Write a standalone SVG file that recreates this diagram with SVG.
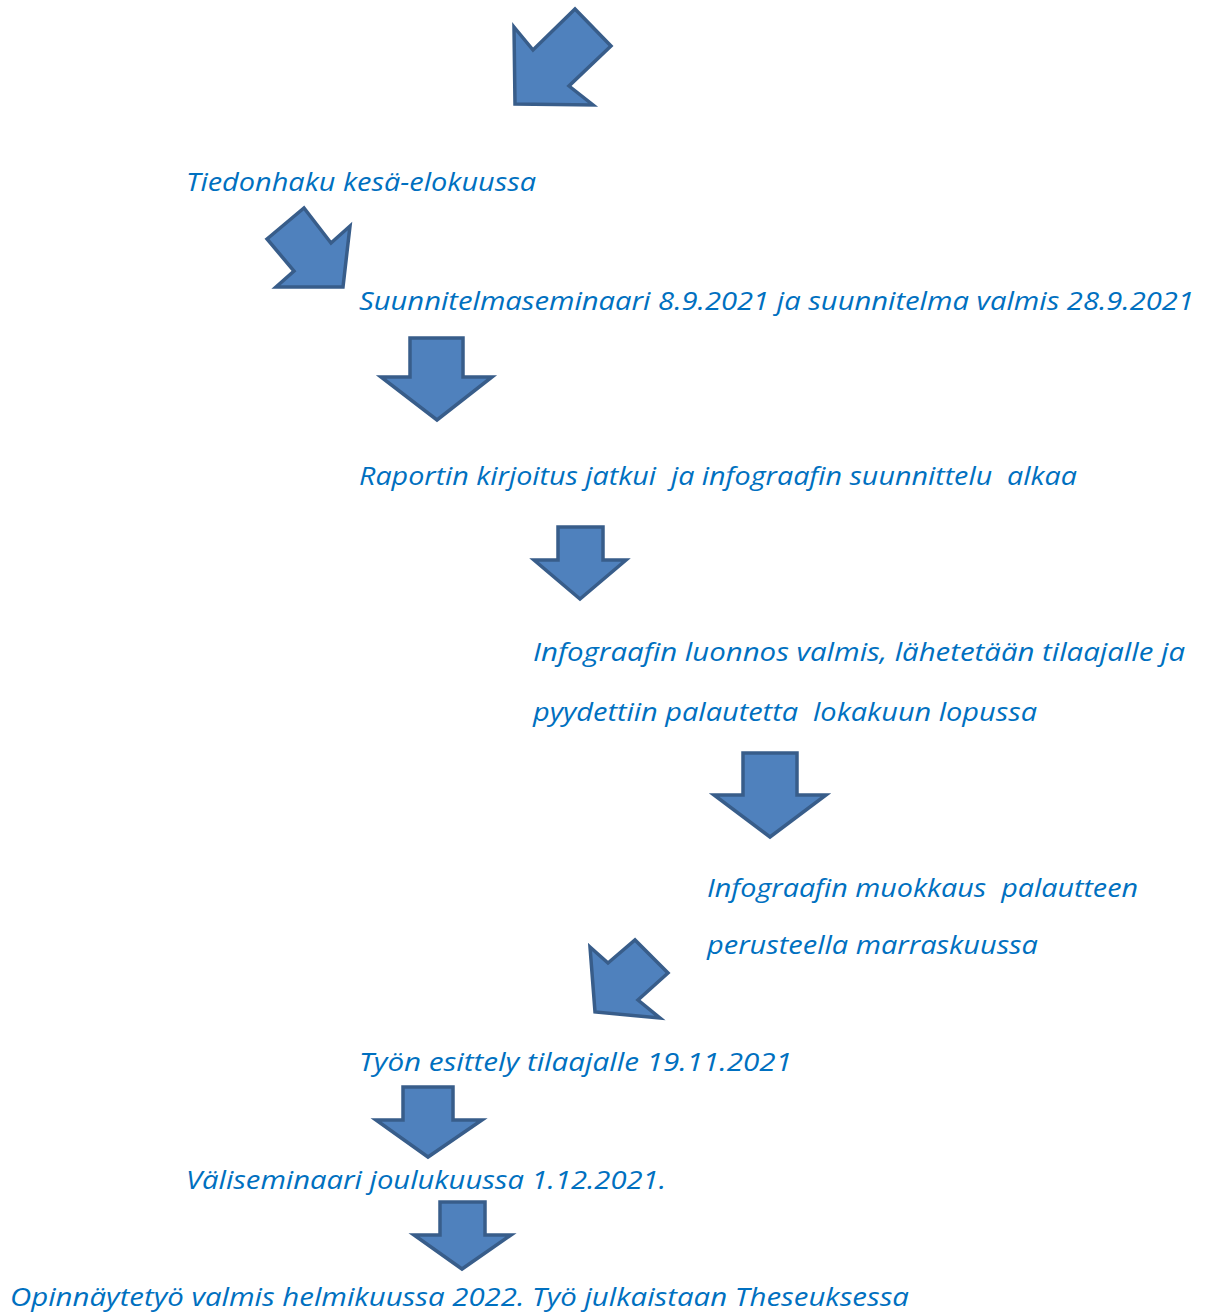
<svg xmlns="http://www.w3.org/2000/svg" width="1207" height="1312" viewBox="0 0 1207 1312">
<style>
.arr{fill:#4F81BD;stroke:#385D8A;stroke-width:3.5;stroke-linejoin:miter}
.t{font-family:"Open Sans","Liberation Sans",sans-serif;font-style:italic;font-size:25px;fill:#0070C0}
</style>
<rect width="1207" height="1312" fill="#FFFFFF"/>
<g id="connectors">
<polygon id="arrow1" class="arr" points="514,27 533,50 575,9 611,46 569,86 593,105 515,104"/>
<polygon id="arrow2" class="arr" points="267,239 304,208 331,243 350,226 343,287 276,287 294,271"/>
<polygon id="arrow3" class="arr" points="410,338 463,338 463,377 492,377 437,420 381,377 410,377"/>
<polygon id="arrow4" class="arr" points="558,527 603,527 603,560 626,560 580,599 534,560 558,560"/>
<polygon id="arrow5" class="arr" points="743,753 797,753 797,795 826,795 770,837 714,795 743,795"/>
<polygon id="arrow6" class="arr" points="590,947 608,963 635,940 668,973 638,1000 660,1018 595,1012"/>
<polygon id="arrow7" class="arr" points="403,1087 453,1087 453,1120 482,1120 428,1157 376,1120 403,1120"/>
<polygon id="arrow8" class="arr" points="440,1202 485,1202 485,1235 511,1235 462,1269 414,1235 440,1235"/>
</g>
<g id="node1"><text class="t" x="186" y="191" textLength="350" lengthAdjust="spacingAndGlyphs">Tiedonhaku kesä-elokuussa</text></g>
<g id="node2"><text class="t" x="359" y="310" textLength="835" lengthAdjust="spacingAndGlyphs">Suunnitelmaseminaari 8.9.2021 ja suunnitelma valmis 28.9.2021</text></g>
<g id="node3"><text class="t" x="359" y="485" textLength="718" lengthAdjust="spacingAndGlyphs" xml:space="preserve">Raportin kirjoitus jatkui  ja infograafin suunnittelu  alkaa</text></g>
<g id="node4"><text class="t" x="533" y="661" textLength="652" lengthAdjust="spacingAndGlyphs">Infograafin luonnos valmis, lähetetään tilaajalle ja</text>
<text class="t" x="533" y="721" textLength="504" lengthAdjust="spacingAndGlyphs" xml:space="preserve">pyydettiin palautetta  lokakuun lopussa</text></g>
<g id="node5"><text class="t" x="707" y="897" textLength="431" lengthAdjust="spacingAndGlyphs" xml:space="preserve">Infograafin muokkaus  palautteen</text>
<text class="t" x="707" y="954" textLength="331" lengthAdjust="spacingAndGlyphs">perusteella marraskuussa</text></g>
<g id="node6"><text class="t" x="359" y="1071" textLength="433" lengthAdjust="spacingAndGlyphs">Työn esittely tilaajalle 19.11.2021</text></g>
<g id="node7"><text class="t" x="186" y="1189" textLength="480" lengthAdjust="spacingAndGlyphs">Väliseminaari joulukuussa 1.12.2021.</text></g>
<g id="node8"><text class="t" x="10" y="1306" textLength="899" lengthAdjust="spacingAndGlyphs">Opinnäytetyö valmis helmikuussa 2022. Työ julkaistaan Theseuksessa</text></g>
</svg>
